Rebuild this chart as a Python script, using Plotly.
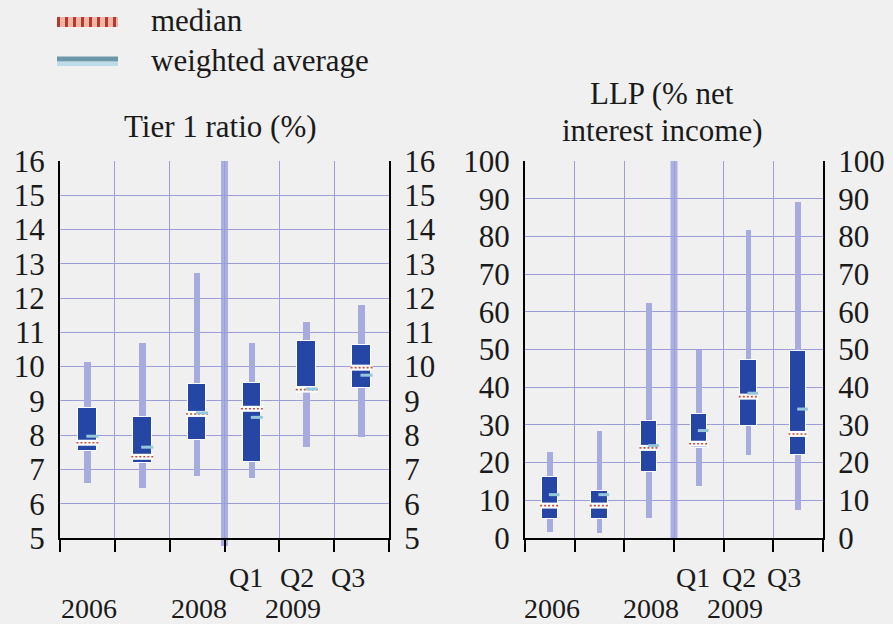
import plotly.graph_objects as go

# categories (6 periods per panel)
periods = ["2006", "2007", "2008", "Q1 2009", "Q2 2009", "Q3 2009"]
quarter_labels = ["Q1", "Q2", "Q3"]
year_labels = ["2006", "2008", "2009"]

# Tier 1 ratio (%)
tier1_low = [6.6, 6.45, 6.8, 6.75, 7.65, 7.95]
tier1_q1 = [7.55, 7.18, 7.86, 7.21, 9.4, 9.38]
tier1_median = [7.78, 7.37, 8.62, 8.77, 9.33, 9.97]
tier1_wavg = [7.97, 7.65, 8.65, 8.52, 9.35, 9.75]
tier1_q3 = [8.79, 8.52, 9.48, 9.52, 10.75, 10.64]
tier1_high = [10.13, 10.68, 12.72, 10.68, 11.3, 11.8]

# LLP (% net interest income)
llp_low = [1.7, 1.3, 5.3, 13.7, 22.1, 7.5]
llp_q1 = [5.0, 5.0, 17.4, 23.8, 29.6, 22.1]
llp_median = [8.6, 8.6, 23.9, 25.0, 37.5, 27.6]
llp_wavg = [11.5, 11.5, 24.5, 28.5, 38.4, 34.2]
llp_q3 = [16.2, 12.4, 31.1, 32.9, 47.3, 49.5]
llp_high = [22.9, 28.3, 62.3, 49.9, 81.7, 89.0]

W, H = 893, 624
FONT = "Liberation Serif, Times New Roman, DejaVu Serif, serif"
BG = "#f0f0f0"
GRID = "#9d9dd8"
WHISKER = "#a8abde"
BOX = "#2646a6"
WAVG = "#95c6dc"
MEDIAN = "#c84a3c"
TXT = "#1a1a1a"


def px(x):
    return x / W


def py(y):
    return 1 - y / H


def add_panel(fig, n, low, q1, med, wavg, q3, high, box_w):
    xa = "x" if n == 1 else "x%d" % n
    ya = "y" if n == 1 else "y%d" % n
    yr = "y%d" % (n + 2)
    xs = list(range(len(periods)))

    fig.add_trace(go.Bar(x=xs, y=[h - l for l, h in zip(low, high)], base=low, width=box_w * 0.36,
                         marker=dict(color=WHISKER, line=dict(width=0)), xaxis=xa, yaxis=ya,
                         hoverinfo="skip", showlegend=False))
    fig.add_trace(go.Bar(x=xs, y=[b - a for a, b in zip(q1, q3)], base=q1, width=box_w,
                         marker=dict(color=BOX, line=dict(color="white", width=1)), xaxis=xa, yaxis=ya,
                         hoverinfo="skip", showlegend=False))

    mx, my = [], []
    for i, m in enumerate(med):
        mx += [i - box_w / 2 - 0.03, i + box_w / 2 + 0.03, None]
        my += [m, m, None]
    fig.add_trace(go.Scatter(x=mx, y=my, mode="lines", line=dict(color="white", width=6),
                             xaxis=xa, yaxis=ya, hoverinfo="skip", showlegend=False))
    fig.add_trace(go.Scatter(x=mx, y=my, mode="lines", line=dict(color=MEDIAN, width=1.6, dash="2px,2px"),
                             xaxis=xa, yaxis=ya, hoverinfo="skip", showlegend=False))

    wx, wy = [], []
    for i, v in enumerate(wavg):
        wx += [i - 0.02, i + box_w / 2 + 0.03, None]
        wy += [v, v, None]
    fig.add_trace(go.Scatter(x=wx, y=wy, mode="lines", line=dict(color=WAVG, width=3),
                             xaxis=xa, yaxis=yr, hoverinfo="skip", showlegend=False))


fig = go.Figure()
add_panel(fig, 1, tier1_low, tier1_q1, tier1_median, tier1_wavg, tier1_q3, tier1_high, 0.34)
add_panel(fig, 2, llp_low, llp_q1, llp_median, llp_wavg, llp_q3, llp_high, 0.33)

y_dom = [py(538), py(161)]
x_doms = [[px(60), px(389)], [px(525), px(823)]]
tick_font = dict(family=FONT, size=31, color=TXT)

xaxis_common = dict(range=[-0.5, 5.5], tickmode="array",
                    tickvals=[i - 0.5 for i in range(len(periods) + 1)],
                    showticklabels=False, ticks="outside", ticklen=12, tickwidth=2, tickcolor="black",
                    showline=True, linecolor="black", linewidth=2, automargin=False,
                    showgrid=True, gridcolor=GRID, gridwidth=1, zeroline=False, fixedrange=True)

layout = dict(width=W, height=H, margin=dict(l=0, r=0, t=0, b=0, pad=0),
              paper_bgcolor=BG, plot_bgcolor=BG, barmode="overlay", bargap=0, showlegend=False)

for n, (rng, dt) in enumerate([([5, 16], 1), ([0, 100], 10)], start=1):
    sfx = "" if n == 1 else str(n)
    layout["xaxis" + sfx] = dict(xaxis_common, domain=x_doms[n - 1], anchor="y" + sfx)
    layout["yaxis" + sfx] = dict(range=rng, dtick=dt, domain=y_dom, anchor="x" + sfx, side="left",
                                 showline=True, linecolor="black", linewidth=2, ticks="outside",
                                 ticklen=7, tickcolor="rgba(0,0,0,0)", automargin=False,
                                 tickfont=tick_font,
                                 showgrid=True, gridcolor=GRID, gridwidth=1, zeroline=False, fixedrange=True)
    layout["yaxis%d" % (n + 2)] = dict(range=rng, dtick=dt, overlaying="y" + sfx, anchor="x" + sfx,
                                       side="right", showline=True, linecolor="black", linewidth=2,
                                       ticks="outside", ticklen=7, tickcolor="rgba(0,0,0,0)",
                                       tickfont=tick_font, automargin=False,
                                       showgrid=False, zeroline=False, fixedrange=True)

fig.update_layout(**layout)

# separator between annual and quarterly data
for n, bottom in ((1, 546), (2, 540)):
    sfx = "" if n == 1 else str(n)
    fig.add_shape(type="line", xref="x" + sfx, yref="paper", x0=2.5, x1=2.5, y0=py(bottom), y1=py(161),
                  line=dict(color="#abb0e2", width=7), layer="below")

# category labels
lab_font = dict(family=FONT, size=28, color=TXT)
for n in (1, 2):
    sfx = "" if n == 1 else str(n)
    for k, lab in enumerate(quarter_labels):
        fig.add_annotation(text=lab, xref="x" + sfx, yref="paper", x=3 + k, y=py(577),
                           xanchor="center", yanchor="middle",
                           xshift=-6 - 4 * k, showarrow=False, font=lab_font)
    for k, lab in enumerate(year_labels):
        fig.add_annotation(text=lab, xref="x" + sfx, yref="paper", x=2 * k, y=py(608),
                           xanchor="center", yanchor="middle",
                           xshift=-14 if k == 2 else 2, showarrow=False, font=lab_font)

# panel titles
title_font = dict(family=FONT, size=31, color=TXT)
for text, cx, cy in [("Tier 1 ratio (%)", 220, 127), ("LLP (% net", 662, 93), ("interest income)", 662, 130)]:
    fig.add_annotation(text=text, xref="paper", yref="paper", x=px(cx), y=py(cy),
                       xanchor="center", yanchor="middle", showarrow=False, font=title_font)

# legend
fig.add_shape(type="line", xref="paper", yref="paper", x0=px(57), x1=px(118), y0=py(22), y1=py(22),
              line=dict(color="#f2b4a4", width=10))
fig.add_shape(type="line", xref="paper", yref="paper", x0=px(57), x1=px(118), y0=py(22), y1=py(22),
              line=dict(color="#b23a30", width=10, dash="3px,5px"))
fig.add_shape(type="line", xref="paper", yref="paper", x0=px(57), x1=px(118), y0=py(59), y1=py(59),
              line=dict(color="#6a98a8", width=5))
fig.add_shape(type="line", xref="paper", yref="paper", x0=px(57), x1=px(118), y0=py(64), y1=py(64),
              line=dict(color="#bcdce8", width=4))
leg_font = dict(family=FONT, size=31, color=TXT)
for text, cy in [("median", 20), ("weighted average", 61)]:
    fig.add_annotation(text=text, xref="paper", yref="paper", x=px(149), y=py(cy),
                       xanchor="left", yanchor="middle", showarrow=False, font=leg_font)

fig.write_html("out.html", config={"displayModeBar": False},
               post_script="document.body.style.margin='0';")
